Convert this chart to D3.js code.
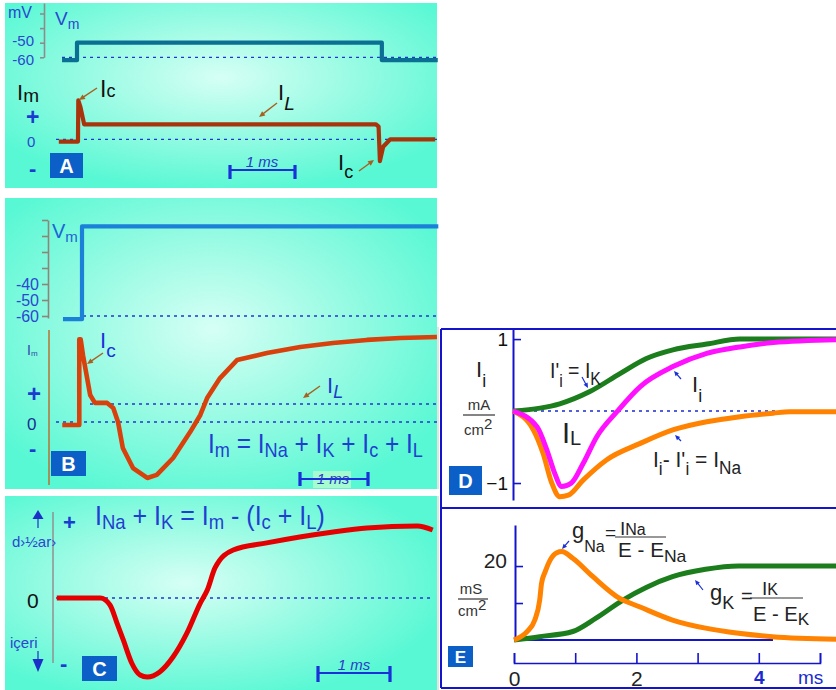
<!DOCTYPE html>
<html><head><meta charset="utf-8">
<script src="https://cdn.jsdelivr.net/npm/d3@7/dist/d3.min.js"></script>
<style>body{margin:0;background:#fff}text{white-space:pre}</style>
</head><body>
<script>
// ---------------- DATA ----------------
// Panel A (voltage step -60 -> -50 mV, passive currents)
const tVmA = [-0.23, 0, 0, 4.69, 4.69, 5.55];
const vmA  = [-62, -62, -50, -50, -62, -62];
const tImA = [-0.28, 0.015, 0.02, 0.05, 0.11, 4.6, 4.64, 4.66, 4.71, 4.82, 5.51];
const imA  = [-0.15, -0.15, 2.6, 2.2, 1.0, 1.0, 0.85, -1.45, -0.5, 0, 0];
const vmTicksA = [-60, -50, -40, -30];
const vmLabelsA = [-60, -50];
// Panel B (voltage step -60 -> ~0 mV, total membrane current)
const tVmB = [-0.28, 0, 0, 5.24];
const vmB  = [-62, -62, -4, -4];
const tImB = [-0.29,-0.04,-0.04,-0.02,0.015,0.12,0.19,0.37,0.46,0.53,0.6,0.75,0.96,1.1,1.34,1.59,1.74,1.84,2.03,2.28,2.72,3.21,3.69,4.19,4.68,5.22];
const imB  = [-0.17,-0.17,4.6,4.6,3.7,1.5,1.06,1.06,0.78,0,-1.44,-2.56,-3.11,-2.94,-2.0,-0.56,0.39,1.33,2.44,3.44,3.83,4.17,4.39,4.56,4.67,4.72];
const vmTicksB = [-60, -50, -40, -30, -20, -10, 0];
const vmLabelsB = [-60, -50, -40];
// Panel C (ionic current INa + IK)
const tC = [-0.36,0.26,0.4,0.5,0.59,0.71,0.83,0.93,1.11,1.3,1.5,1.69,1.79,1.9,2.16,2.64,3.11,3.59,4.07,4.79,5.01];
const vC = [0,0,-0.39,-1.39,-2.33,-3.61,-4.28,-4.39,-4.11,-3.28,-1.94,-0.28,0.44,1.67,2.67,3.06,3.39,3.67,3.89,4.0,3.78];
// Panel D (mA/cm2)
const tIK  = [0,0.44,0.76,1.25,1.74,2.17,2.6,3.15,3.69,5.3];
const vIK  = [0,0.04,0.1,0.27,0.52,0.73,0.85,0.93,1.0,1.0];
const tIi  = [0,0.39,0.55,0.68,0.79,0.95,1.14,1.36,1.69,2.07,2.61,3.15,3.69,4.23,5.3];
const vIi  = [0,-0.22,-0.54,-0.87,-1.05,-1.0,-0.73,-0.36,-0.01,0.34,0.62,0.8,0.89,0.95,0.99];
const tINa = [0,0.33,0.49,0.63,0.76,0.9,1.14,1.52,2.07,2.61,3.15,3.69,4.23,4.5,5.3];
const vINa = [0,-0.26,-0.59,-1.0,-1.19,-1.17,-0.96,-0.68,-0.45,-0.26,-0.15,-0.08,-0.03,-0.01,-0.01];
const dTicks = [1, -1];
// Panel E (mS/cm2)
const tgNa = [0,0.21,0.34,0.42,0.45,0.51,0.59,0.70,0.78,0.96,1.29,1.72,2.05,2.59,3.13,3.67,4.22,5.3];
const vgNa = [0,2.2,5.4,10.8,15.3,18.5,21.6,23.6,23.9,22.1,17.1,11.3,9.0,5.4,3.2,1.8,0.9,0.2];
const tgK  = [0,0.42,0.96,1.34,1.78,2.16,2.59,3.13,3.67,5.3];
const vgK  = [0,0.9,2.3,5.9,10.8,14.2,17.1,19.1,20,20];
const eTicksY = [10, 20];
const eTicksX = [0, 1, 2, 3, 4, 5];

// ---------------- DRAWING ----------------
const F = "'Liberation Sans', Arial, Helvetica, sans-serif";
const BLUE = "#2238cc", AXB = "#1414cc";
const svg = d3.select("body").append("svg").attr("width", 836).attr("height", 690);
const defs = svg.append("defs");
function grad(id, cx, cy) {
  const g = defs.append("radialGradient").attr("id", id).attr("cx", cx).attr("cy", cy).attr("r", 0.62);
  g.append("stop").attr("offset", 0).attr("stop-color", "#d6fff5");
  g.append("stop").attr("offset", 0.5).attr("stop-color", "#98fbe3");
  g.append("stop").attr("offset", 1).attr("stop-color", "#58f8d4");
}
grad("gA", 0.5, 0.4); grad("gB", 0.48, 0.45); grad("gC", 0.42, 0.45);

function rich(x, y, parts, opt = {}) {
  const t = svg.append("text").attr("x", x).attr("y", y).attr("font-family", F)
    .attr("fill", opt.fill || "#000").attr("font-size", opt.size || 20)
    .attr("text-anchor", opt.anchor || "start");
  if (opt.bold) t.attr("font-weight", "bold");
  if (opt.it) t.attr("font-style", "italic");
  let cur = 0;
  parts.forEach(p => {
    const [txt, size, off, ex] = p;
    const ts = t.append("tspan").text(txt);
    if (size) ts.attr("font-size", size);
    const o = off || 0;
    ts.attr("dy", o - cur); cur = o;
    if (ex && ex.it) ts.attr("font-style", "italic");
    if (ex && ex.fill) ts.attr("fill", ex.fill);
  });
  if (opt.w) {
    const bb = t.node().getBBox();
    const s = opt.w / bb.width;
    t.attr("transform", `translate(${bb.x},0) scale(${s},1) translate(${-bb.x},0)`);
  }
  return t;
}
function arrow(x1, y1, x2, y2, col, w = 1.4, hs = 6) {
  const a = Math.atan2(y2 - y1, x2 - x1), c = Math.cos(a), s = Math.sin(a);
  svg.append("line").attr("x1", x1).attr("y1", y1).attr("x2", x2 - c * hs * 0.7).attr("y2", y2 - s * hs * 0.7)
    .attr("stroke", col).attr("stroke-width", w);
  const bx = x2 - c * hs, by = y2 - s * hs;
  svg.append("polygon").attr("points",
    `${x2},${y2} ${bx + s * hs * 0.45},${by - c * hs * 0.45} ${bx - s * hs * 0.45},${by + c * hs * 0.45}`)
    .attr("fill", col);
}
function hline(x1, x2, y, col = BLUE) {
  svg.append("line").attr("x1", x1).attr("x2", x2).attr("y1", y).attr("y2", y)
    .attr("stroke", col).attr("stroke-width", 1.3).attr("stroke-dasharray", "3,4");
}
function box(x, y, w, h, letter, fs = 20) {
  svg.append("rect").attr("x", x).attr("y", y).attr("width", w).attr("height", h).attr("fill", "#0b5fc6");
  svg.append("text").attr("x", x + w / 2).attr("y", y + h / 2 + fs * 0.36).attr("text-anchor", "middle")
    .attr("font-family", F).attr("font-weight", "bold").attr("font-size", fs).attr("fill", "#fff").text(letter);
}
function scaleBar(x1, x2, y, c1, c2, lx, ly, bg) {
  if (bg) svg.append("rect").attr("x", bg[0]).attr("y", bg[1]).attr("width", bg[2]).attr("height", bg[3]).attr("fill", "#a4fcd0");
  svg.append("line").attr("x1", x1).attr("x2", x2).attr("y1", y).attr("y2", y).attr("stroke", "#1a30d8").attr("stroke-width", 2);
  [x1, x2].forEach(x => svg.append("line").attr("x1", x).attr("x2", x).attr("y1", c1).attr("y2", c2)
    .attr("stroke", "#1a30d8").attr("stroke-width", 3.2));
  svg.append("text").attr("x", lx).attr("y", ly).attr("text-anchor", "middle").attr("font-family", F)
    .attr("font-style", "italic").attr("font-size", 15).attr("fill", "#2a3cc8").text("1 ms");
}
function trace(t, v, xs, ys, col, w, curve) {
  svg.append("path").datum(d3.zip(t, v)).attr("fill", "none").attr("stroke", col).attr("stroke-width", w)
    .attr("stroke-linejoin", "round").attr("stroke-linecap", "butt")
    .attr("d", d3.line().x(d => xs(d[0])).y(d => ys(d[1])).curve(curve || d3.curveLinear));
}
function styleAxis(g, col, fs, fill) {
  g.select(".domain").attr("stroke", col).attr("stroke-width", 1.6);
  g.selectAll(".tick line").attr("stroke", col).attr("stroke-width", 1.6);
  g.selectAll(".tick text").attr("font-family", F).attr("font-size", fs).attr("fill", fill);
}

// ===== Panel A =====
svg.append("rect").attr("x", 5).attr("y", 3).attr("width", 432).attr("height", 185).attr("fill", "url(#gA)");
const xA = d3.scaleLinear().domain([0, 1]).range([77, 142]);
const yVmA = d3.scaleLinear().domain([-60, -50]).range([57.3, 42.7]);
const yImA = d3.scaleLinear().domain([0, 1]).range([139.3, 124.3]);
const gA = svg.append("g").attr("transform", "translate(44,0)")
  .call(d3.axisLeft(yVmA.copy().domain([-60, -22.8]).range([57.3, 3])).tickValues(vmTicksA).tickSizeInner(4).tickSizeOuter(0).tickPadding(6)
    .tickFormat(d => vmLabelsA.includes(d) ? String(d) : ""));
styleAxis(gA, "#8c8c8c", 15, "#2a48d0");
gA.selectAll(".tick text").filter(d => d === -50).attr("dy", "0.2em");
gA.selectAll(".tick text").filter(d => d === -60).attr("dy", "0.45em");
rich(8, 18, [["mV"]], { size: 16, fill: "#2a48d0" });
rich(55, 25, [["V", 19], ["m", 14, 4]], { fill: "#2a48d0" });
hline(62, 438, yVmA(-60));
trace(tVmA, vmA, xA, yVmA, "#0a6f92", 4.2);
hline(56, 437, yImA(0));
trace(tImA, imA, xA, yImA, "#a8340c", 4.2);
rich(17, 100, [["I", 22], ["m", 19, 2]], { fill: "#111" });
rich(26, 125, [["+"]], { size: 23, bold: true, fill: "#1a3cd0" });
rich(27, 147, [["0"]], { size: 15, fill: "#2a48d0" });
rich(29, 176, [["-"]], { size: 22, bold: true, fill: "#1a3cd0" });
box(50, 153, 33, 25, "A");
rich(100, 97, [["I", 23], ["c", 18, 0]], { fill: "#111" });
arrow(97, 88, 79, 100, "#a8601e");
rich(278, 100, [["I", 22], ["L", 19, 10, { it: 1 }]], { fill: "#111" });
arrow(277, 103, 259, 117, "#a8601e");
rich(338, 170, [["I", 22], ["c", 18, 8]], { fill: "#111" });
arrow(359, 171, 374, 160, "#a8601e");
scaleBar(230, 295, 170, 165, 179, 262, 167);

// ===== Panel B =====
svg.append("rect").attr("x", 5).attr("y", 198).attr("width", 432).attr("height", 291).attr("fill", "url(#gB)");
svg.append("line").attr("x1", 438).attr("x2", 438).attr("y1", 327).attr("y2", 489).attr("stroke", "#c8c8c8");
const xB = d3.scaleLinear().domain([0, 1]).range([82, 150]);
const yVmB = d3.scaleLinear().domain([-60, -40]).range([316, 284]);
const yImB = d3.scaleLinear().domain([0, 1]).range([422, 404]);
const gB = svg.append("g").attr("transform", "translate(48,0)")
  .call(d3.axisLeft(yVmB.copy().domain([-61.25, 0]).range([318, 220])).tickValues(vmTicksB).tickSizeInner(6).tickSizeOuter(0).tickPadding(3)
    .tickFormat(d => vmLabelsB.includes(d) ? String(d) : ""));
styleAxis(gB, "#8f8478", 16, "#2a48d0");
rich(52, 238, [["V", 20], ["m", 15, 4]], { fill: "#1c64d4" });
hline(83, 437, yVmB(-60));
trace(tVmB, vmB, xB, yVmB, "#1a80d8", 4.2);
svg.append("line").attr("x1", 49).attr("x2", 49).attr("y1", 330).attr("y2", 485).attr("stroke", "#b87030").attr("stroke-width", 1.5);
hline(90, 437, yImB(1));
hline(56, 437, yImB(0));
trace(tImB, imB, xB, yImB, "#d8400c", 4.6);
rich(27, 355, [["I", 14], ["m", 8, 1]], { fill: "#2e4aa8" });
rich(27, 402, [["+"]], { size: 24, bold: true, fill: "#1a3cd0" });
rich(27, 430, [["0"]], { size: 17, fill: "#1a2e90" });
rich(29, 456, [["-"]], { size: 22, bold: true, fill: "#1a3cd0" });
box(51, 451, 35, 25, "B");
rich(100, 348, [["I", 22], ["c", 19, 9]], { fill: "#1a30e0" });
arrow(103, 353, 87, 364, "#a8601e");
rich(327, 393, [["I", 22], ["L", 18, 5, { it: 1 }]], { fill: "#1c3cc8" });
arrow(320, 386, 303, 398, "#a8601e");
rich(208, 453, [["I", 27], ["m", 20, 4], [" = I", 27, 0], ["Na", 20, 4], [" + I", 27, 0], ["K", 20, 4], [" + I", 27, 0], ["c", 20, 4], [" + I", 27, 0], ["L", 20, 4]],
  { fill: "#1f3fd0", w: 215 });
scaleBar(300, 368, 479, 472, 486, 333, 484, [313, 471, 38, 17]);

// ===== Panel C =====
svg.append("rect").attr("x", 5).attr("y", 496).attr("width", 432).attr("height", 194).attr("fill", "url(#gC)");
svg.append("line").attr("x1", 438).attr("x2", 438).attr("y1", 496).attr("y2", 690).attr("stroke", "#c8c8c8");
const xC = d3.scaleLinear().domain([0, 1]).range([82, 152]);
const yC = d3.scaleLinear().domain([0, 1]).range([598, 580]);
svg.append("line").attr("x1", 53).attr("x2", 53).attr("y1", 512).attr("y2", 663).attr("stroke", "#909090").attr("stroke-width", 1.5);
hline(56, 430, yC(0));
trace(tC, vC, xC, yC, "#e40000", 5, d3.curveMonotoneX);
svg.append("polygon").attr("points", "38,510 32.5,519 43.5,519").attr("fill", "#1a30c8");
svg.append("line").attr("x1", 38).attr("x2", 38).attr("y1", 519).attr("y2", 528).attr("stroke", "#1a30c8").attr("stroke-width", 1.2);
rich(12, 547, [["d›½ar›"]], { size: 15, fill: "#2a48d0" });
rich(63, 530, [["+"]], { size: 22, bold: true, fill: "#1a3cd0" });
rich(95, 525, [["I", 27], ["Na", 20, 4], [" + I", 27, 0], ["K", 20, 4], [" = I", 27, 0], ["m", 20, 4], [" - (I", 27, 0], ["c", 20, 4], [" + I", 27, 0], ["L", 20, 4], [")", 27, 0]],
  { fill: "#1f3fd0", w: 230 });
rich(27, 608, [["0"]], { size: 21, fill: "#111" });
rich(10, 648, [["içeri"]], { size: 15, fill: "#2a48d0" });
svg.append("line").attr("x1", 38).attr("x2", 38).attr("y1", 651).attr("y2", 660).attr("stroke", "#1a30c8").attr("stroke-width", 1.2);
svg.append("polygon").attr("points", "32.5,659 43.5,659 38,672").attr("fill", "#1a30c8");
rich(60, 671, [["-"]], { size: 22, bold: true, fill: "#1a3cd0" });
box(82, 656, 35, 25, "C");
scaleBar(318, 390, 673, 666, 682, 354, 670);

// ===== Panel D =====
const xD = d3.scaleLinear().domain([0, 1]).range([513, 574.5]);
const yD = d3.scaleLinear().domain([0, 1]).range([411, 339]);
const gD = svg.append("g").attr("transform", "translate(513,0)")
  .call(d3.axisLeft(yD.copy().domain([-1.236, 1.14]).range([500, 329])).tickValues(dTicks).tickSizeInner(-8).tickSizeOuter(0).tickPadding(5)
    .tickFormat(d => d === 1 ? "1" : "\u22121"));
styleAxis(gD, AXB, 19, "#111");
gD.select(".domain").attr("stroke-width", 2);
hline(513, 787, yD(0), "#1a2ad0");
trace(tIK, vIK, xD, yD, "#1b7d1b", 5, d3.curveMonotoneX);
trace(tINa, vINa, xD, yD, "#ff8200", 5, d3.curveMonotoneX);
trace(tIi, vIi, xD, yD, "#ff10ff", 5, d3.curveMonotoneX);
rich(476, 377, [["I", 22], ["i", 18, 10]], { fill: "#222" });
rich(479, 410, [["mA"]], { size: 15, fill: "#333", anchor: "middle" });
svg.append("line").attr("x1", 463).attr("x2", 495).attr("y1", 415).attr("y2", 415).attr("stroke", "#333").attr("stroke-width", 1.2);
rich(464, 435, [["cm", 15], ["2", 15, -6]], { fill: "#333" });
rich(550, 378, [["I'", 22], ["i", 18, 9], [" = I", 22, 0], ["K", 18, 7]], { fill: "#222", w: 51 });
arrow(582, 377, 588, 388, "#1a30d8", 1.2, 5);
rich(692, 392, [["I", 22], ["i", 18, 10]], { fill: "#222" });
arrow(681, 379, 674, 371, "#1a30d8", 1.2, 5);
rich(562, 443, [["I", 29], ["L", 20, 2]], { fill: "#222" });
rich(653, 467, [["I", 22], ["i", 18, 8], ["- I'", 22, 0], ["i", 18, 8], [" = I", 22, 0], ["Na", 18, 7]], { fill: "#222", w: 89 });
arrow(681, 441, 675, 435, "#1a30d8", 1.2, 5);
box(449, 466, 33, 29, "D");

// ===== Panel E =====
const xE = d3.scaleLinear().domain([0, 5]).range([514, 820]);
const yE = d3.scaleLinear().domain([0, 20]).range([640, 566]);
const gEy = svg.append("g").attr("transform", "translate(515,0)")
  .call(d3.axisLeft(yE.copy().domain([0, 31.1]).range([640, 525])).tickValues(eTicksY).tickSizeInner(-8).tickSizeOuter(0).tickPadding(8)
    .tickFormat(d => d === 20 ? "20" : ""));
styleAxis(gEy, AXB, 21, "#222");
gEy.select(".domain").attr("stroke-width", 2);
gEy.selectAll(".tick text").attr("dy", "0.05em");
svg.append("line").attr("x1", 515).attr("x2", 773).attr("y1", 640).attr("y2", 640).attr("stroke", AXB).attr("stroke-width", 2);
trace(tgK, vgK, xE, yE, "#1b7d1b", 5, d3.curveMonotoneX);
trace(tgNa, vgNa, xE, yE, "#ff8200", 5, d3.curveMonotoneX);
const gEx = svg.append("g").attr("transform", "translate(0,663)")
  .call(d3.axisBottom(xE).tickValues(eTicksX).tickSizeInner(-10).tickSizeOuter(-10).tickPadding(8)
    .tickFormat(d => (d % 2 === 0) ? String(d) : ""));
styleAxis(gEx, AXB, 21, "#222");
gEx.selectAll(".tick text").filter(d => d === 4).attr("fill", "#1a2ad0").attr("font-weight", "bold").attr("font-size", 19);
rich(798, 684, [["ms"]], { size: 19, fill: "#1a2ad0" });
rich(471, 594, [["mS"]], { size: 15, fill: "#333", anchor: "middle" });
svg.append("line").attr("x1", 458).attr("x2", 488).attr("y1", 599).attr("y2", 599).attr("stroke", "#333").attr("stroke-width", 1.2);
rich(458, 616, [["cm", 15], ["2", 15, -6]], { fill: "#333" });
rich(572, 538, [["g", 22], ["Na", 16, 14]], { fill: "#222" });
rich(605, 539, [["="]], { size: 19, fill: "#222" });
svg.append("line").attr("x1", 615).attr("x2", 666).attr("y1", 537).attr("y2", 537).attr("stroke", "#333").attr("stroke-width", 1.2);
rich(620, 535, [["I", 19], ["Na", 16, 0]], { fill: "#222" });
rich(618, 557, [["E - E", 20], ["Na", 17, 5]], { fill: "#222", w: 69 });
arrow(569, 541, 562, 549, "#1a30d8", 1.2, 5);
rich(710, 600, [["g", 22], ["K", 18, 9]], { fill: "#222" });
rich(741, 603, [["="]], { size: 20, fill: "#222" });
svg.append("line").attr("x1", 750).attr("x2", 803).attr("y1", 598).attr("y2", 598).attr("stroke", "#333").attr("stroke-width", 1.2);
rich(762, 595, [["I", 19], ["K", 16, 0]], { fill: "#222" });
rich(753, 621, [["E - E", 20], ["K", 17, 4]], { fill: "#222", w: 57 });
arrow(703, 590, 695, 580, "#1a30d8", 1.2, 5);
box(448, 646, 25, 21, "E", 17);

// frame of D/E
const fr = [[441, 329, 836, 329], [441, 329, 441, 688], [441, 508, 836, 508], [441, 688, 836, 688]];
fr.forEach(l => svg.append("line").attr("x1", l[0]).attr("y1", l[1]).attr("x2", l[2]).attr("y2", l[3]).attr("stroke", AXB).attr("stroke-width", 2));
</script>
</body></html>
